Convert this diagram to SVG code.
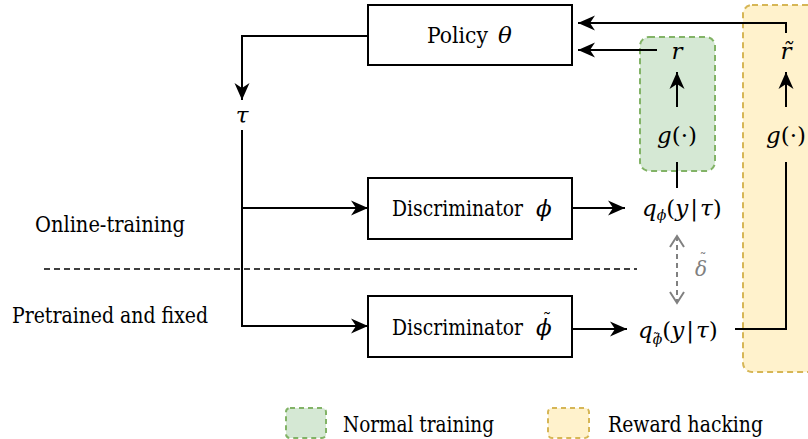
<svg xmlns="http://www.w3.org/2000/svg" width="808" height="439" viewBox="0 0 808 439">
<defs>
<style>
.box{fill:#fff;stroke:#000;stroke-width:2}
.ln{fill:none;stroke:#000;stroke-width:2}
.t{font-family:'DejaVu Serif','Liberation Serif',serif;font-size:23px;fill:#000}
.d{font-family:'DejaVu Serif','Liberation Serif',serif;font-size:22px;fill:#000}
.m{font-family:'DejaVu Serif','Liberation Serif',serif;font-style:italic;font-size:23px;fill:#000}
.up{font-style:normal}
.tl{font-family:'DejaVu Serif',serif;font-style:normal;fill:#000}
</style>
<marker id="ah" markerUnits="userSpaceOnUse" markerWidth="18" markerHeight="16" refX="17" refY="8" orient="auto">
<path d="M0,0.5 L17,8 L0,15.5 L5,8 Z" fill="#000"/>
</marker>
<marker id="oa" markerUnits="userSpaceOnUse" markerWidth="14" markerHeight="16" refX="12" refY="8" orient="auto-start-reverse">
<path d="M1,1 L12,8 L1,15" fill="none" stroke="#808080" stroke-width="2"/>
</marker>
</defs>

<g id="reward-hacking-region">
<rect x="743" y="5" width="80" height="367" rx="9" fill="#fff2cc" stroke="#d6b656" stroke-width="2" stroke-dasharray="6,4"/>
</g>
<g id="normal-training-region">
<rect x="640" y="37" width="75" height="134" rx="9" fill="#d5e8d4" stroke="#82b366" stroke-width="2" stroke-dasharray="6,4"/>
</g>

<g id="separator">
<line x1="44" y1="269" x2="637" y2="269" stroke="#000" stroke-width="1.6" stroke-dasharray="6,4"/>
</g>

<g id="connectors">
<path class="ln" d="M368,36 H242 V100" marker-end="url(#ah)"/>
<path class="ln" d="M242,130 V326 H368" marker-end="url(#ah)"/>
<path class="ln" d="M242,208 H368" marker-end="url(#ah)"/>
<path class="ln" d="M572,208 H625" marker-end="url(#ah)"/>
<path class="ln" d="M572,329 H627" marker-end="url(#ah)"/>
<path class="ln" d="M677,188 V162"/>
<path class="ln" d="M677,107 V72" marker-end="url(#ah)"/>
<path class="ln" d="M657,50 H578" marker-end="url(#ah)"/>
<path class="ln" d="M735,329 H786 V162"/>
<path class="ln" d="M786,107 V72" marker-end="url(#ah)"/>
<path class="ln" d="M786,33 V23 H578" marker-end="url(#ah)"/>
<path d="M677,236 V303" fill="none" stroke="#808080" stroke-width="2" stroke-dasharray="5,4" marker-start="url(#oa)" marker-end="url(#oa)"/>
</g>

<g id="policy">
<rect class="box" x="368" y="5" width="204" height="60"/>
<text class="d" x="427" y="43" textLength="61" lengthAdjust="spacingAndGlyphs">Policy</text>
<text class="m" x="498" y="43">θ</text>
</g>

<g id="tau">
<text class="m" x="242" y="123" text-anchor="middle">τ</text>
</g>

<g id="discriminator-phi">
<rect class="box" x="368" y="178" width="204" height="61"/>
<text class="d" x="392" y="216" textLength="131" lengthAdjust="spacingAndGlyphs">Discriminator</text>
<text class="m" x="536" y="216">ϕ</text>
</g>

<g id="discriminator-phi-tilde">
<rect class="box" x="368" y="296" width="204" height="61"/>
<text class="d" x="392" y="335" textLength="131" lengthAdjust="spacingAndGlyphs">Discriminator</text>
<text class="m" x="536" y="335">ϕ</text>
<text class="tl" x="547" y="326" font-size="18" text-anchor="middle">˜</text>
</g>

<g id="q-phi">
<text class="m" x="642" y="216">q<tspan font-size="14" dy="4">ϕ</tspan><tspan class="up" dy="-4">(</tspan>y<tspan class="up" dx="2">|</tspan><tspan dx="2">τ</tspan><tspan class="up">)</tspan></text>
</g>

<g id="q-phi-tilde">
<text class="m" x="638" y="338">q<tspan font-size="14" dy="6">ϕ</tspan><tspan class="up" dy="-6">(</tspan>y<tspan class="up" dx="2">|</tspan><tspan dx="2">τ</tspan><tspan class="up">)</tspan></text>
<text class="tl" x="656" y="342" font-size="12" text-anchor="middle">˜</text>
</g>

<g id="delta-tilde">
<text x="701" y="276" font-family="DejaVu Serif, serif" font-style="italic" font-size="20" fill="#808080" text-anchor="middle">δ</text>
<text x="703" y="264" font-family="DejaVu Serif, serif" font-size="14" fill="#808080" text-anchor="middle">˜</text>
</g>

<g id="g-normal">
<text class="m" x="677" y="143" text-anchor="middle">g<tspan class="up">(·)</tspan></text>
</g>
<g id="r-normal">
<text class="m" x="677" y="59" text-anchor="middle">r</text>
</g>

<g id="g-hack">
<text class="m" x="786" y="143" text-anchor="middle">g<tspan class="up">(·)</tspan></text>
</g>
<g id="r-tilde">
<text class="m" x="786" y="59" text-anchor="middle">r̃</text>
</g>

<g id="label-online">
<text class="t" x="35" y="232" textLength="150" lengthAdjust="spacingAndGlyphs">Online-training</text>
</g>
<g id="label-pretrained">
<text class="t" x="12" y="323" textLength="196" lengthAdjust="spacingAndGlyphs">Pretrained and fixed</text>
</g>

<g id="legend">
<rect x="286" y="408" width="40" height="30" rx="4" fill="#d5e8d4" stroke="#82b366" stroke-width="2" stroke-dasharray="5,4"/>
<text class="t" x="343" y="432" textLength="151" lengthAdjust="spacingAndGlyphs">Normal training</text>
<rect x="548" y="408" width="41" height="30" rx="4" fill="#fff2cc" stroke="#d6b656" stroke-width="2" stroke-dasharray="5,4"/>
<text class="t" x="608" y="432" textLength="155" lengthAdjust="spacingAndGlyphs">Reward hacking</text>
</g>
</svg>
